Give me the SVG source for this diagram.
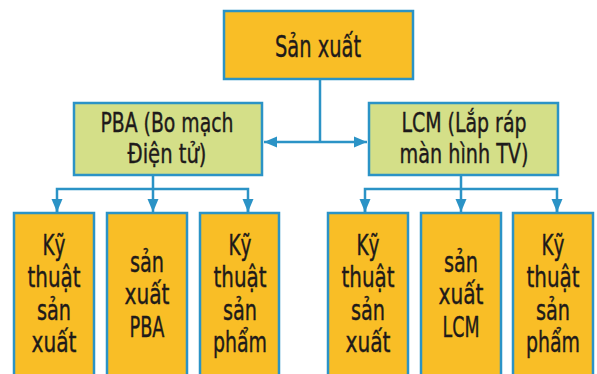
<svg xmlns="http://www.w3.org/2000/svg" width="597" height="374" viewBox="0 0 597 374">
<style>
.box{stroke:#2B93C6;stroke-width:2.5}
.o{fill:#F9BE26}
.g{fill:#D4DF88}
.t{font-family:"DejaVu Sans Condensed","Liberation Sans Narrow","Liberation Sans",sans-serif;fill:#1E1A1A;text-anchor:middle;stroke:#1E1A1A;stroke-width:0.4}
.t1{font-size:30px}
.t2{font-size:27px}
.t3{font-size:29px}
.c{stroke:#2B93C6;stroke-width:2.5;fill:none}
</style>
<defs>
<marker id="ah" markerUnits="userSpaceOnUse" markerWidth="14" markerHeight="14" viewBox="0 0 14 14" refX="13" refY="7" orient="auto">
<path d="M0,1.5 L13,7 L0,12.5 Z" fill="#2B93C6"/>
</marker>
</defs>
<rect width="597" height="374" fill="#fff"/>
<g id="connectors">
<line class="c" x1="320" y1="79" x2="320" y2="142"/>
<line class="c" x1="320" y1="142" x2="264" y2="142" marker-end="url(#ah)"/>
<line class="c" x1="320" y1="142" x2="367" y2="142" marker-end="url(#ah)"/>
<line class="c" x1="153" y1="175" x2="153" y2="189"/>
<polyline class="c" points="57,212 57,189 248,189 248,212"/>
<line class="c" x1="57" y1="200" x2="57" y2="212" marker-end="url(#ah)"/>
<line class="c" x1="153" y1="189" x2="153" y2="212" marker-end="url(#ah)"/>
<line class="c" x1="248" y1="200" x2="248" y2="212" marker-end="url(#ah)"/>
<line class="c" x1="461" y1="175" x2="461" y2="189"/>
<polyline class="c" points="365,212 365,189 557,189 557,212"/>
<line class="c" x1="365" y1="200" x2="365" y2="212" marker-end="url(#ah)"/>
<line class="c" x1="461" y1="189" x2="461" y2="212" marker-end="url(#ah)"/>
<line class="c" x1="557" y1="200" x2="557" y2="212" marker-end="url(#ah)"/>
</g>
<g id="san-xuat">
<rect class="box o" x="224" y="11" width="189" height="68"/>
<text class="t t1" x="318" y="57" textLength="86" lengthAdjust="spacingAndGlyphs">Sản xuất</text>
</g>
<g id="pba">
<rect class="box g" x="74" y="103" width="188" height="72"/>
<text class="t t2" x="167" y="132" textLength="133" lengthAdjust="spacingAndGlyphs">PBA (Bo mạch</text>
<text class="t t2" x="167" y="163" textLength="79" lengthAdjust="spacingAndGlyphs">Điện tử)</text>
</g>
<g id="lcm">
<rect class="box g" x="369" y="103" width="189" height="72"/>
<text class="t t2" x="464" y="132" textLength="125" lengthAdjust="spacingAndGlyphs">LCM (Lắp ráp</text>
<text class="t t2" x="464" y="163" textLength="129" lengthAdjust="spacingAndGlyphs">màn hình TV)</text>
</g>
<g id="pba-ktsx">
<rect class="box o" x="14" y="213" width="80" height="170"/>
<text class="t t3" x="54" y="255" textLength="23" lengthAdjust="spacingAndGlyphs">Kỹ</text>
<text class="t t3" x="54" y="287" textLength="53" lengthAdjust="spacingAndGlyphs">thuật</text>
<text class="t t3" x="54" y="320" textLength="34" lengthAdjust="spacingAndGlyphs">sản</text>
<text class="t t3" x="54" y="352" textLength="45" lengthAdjust="spacingAndGlyphs">xuất</text>
</g>
<g id="pba-sx">
<rect class="box o" x="107" y="213" width="80" height="170"/>
<text class="t t3" x="147" y="272" textLength="34" lengthAdjust="spacingAndGlyphs">sản</text>
<text class="t t3" x="147" y="304" textLength="45" lengthAdjust="spacingAndGlyphs">xuất</text>
<text class="t t3" x="147" y="337" textLength="35" lengthAdjust="spacingAndGlyphs">PBA</text>
</g>
<g id="pba-ktsp">
<rect class="box o" x="200" y="213" width="79" height="170"/>
<text class="t t3" x="240" y="255" textLength="23" lengthAdjust="spacingAndGlyphs">Kỹ</text>
<text class="t t3" x="240" y="287" textLength="53" lengthAdjust="spacingAndGlyphs">thuật</text>
<text class="t t3" x="240" y="320" textLength="34" lengthAdjust="spacingAndGlyphs">sản</text>
<text class="t t3" x="240" y="352" textLength="54" lengthAdjust="spacingAndGlyphs">phẩm</text>
</g>
<g id="lcm-ktsx">
<rect class="box o" x="328" y="213" width="80" height="170"/>
<text class="t t3" x="368" y="255" textLength="23" lengthAdjust="spacingAndGlyphs">Kỹ</text>
<text class="t t3" x="368" y="287" textLength="53" lengthAdjust="spacingAndGlyphs">thuật</text>
<text class="t t3" x="368" y="320" textLength="34" lengthAdjust="spacingAndGlyphs">sản</text>
<text class="t t3" x="368" y="352" textLength="45" lengthAdjust="spacingAndGlyphs">xuất</text>
</g>
<g id="lcm-sx">
<rect class="box o" x="421" y="213" width="80" height="170"/>
<text class="t t3" x="461" y="272" textLength="34" lengthAdjust="spacingAndGlyphs">sản</text>
<text class="t t3" x="461" y="304" textLength="45" lengthAdjust="spacingAndGlyphs">xuất</text>
<text class="t t3" x="461" y="337" textLength="37" lengthAdjust="spacingAndGlyphs">LCM</text>
</g>
<g id="lcm-ktsp">
<rect class="box o" x="513" y="213" width="80" height="170"/>
<text class="t t3" x="553" y="255" textLength="23" lengthAdjust="spacingAndGlyphs">Kỹ</text>
<text class="t t3" x="553" y="287" textLength="53" lengthAdjust="spacingAndGlyphs">thuật</text>
<text class="t t3" x="553" y="320" textLength="34" lengthAdjust="spacingAndGlyphs">sản</text>
<text class="t t3" x="553" y="352" textLength="54" lengthAdjust="spacingAndGlyphs">phẩm</text>
</g>
</svg>
